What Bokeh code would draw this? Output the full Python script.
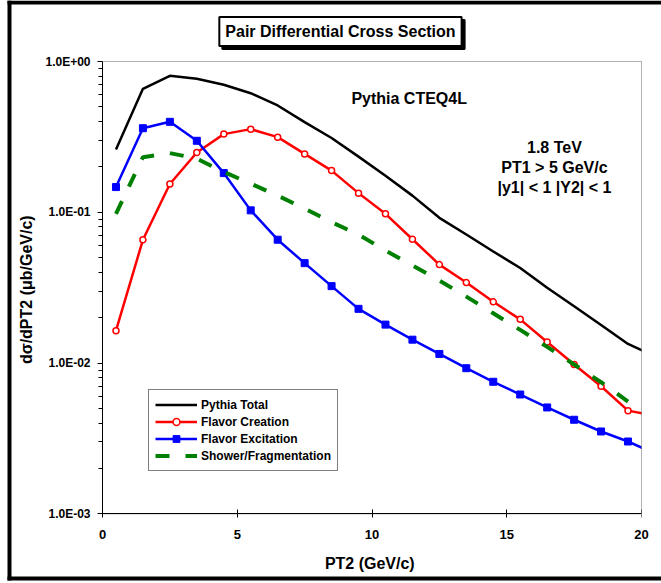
from bokeh.plotting import figure
from bokeh.models import (Range1d, FixedTicker, CustomJSTickFormatter, Label,
                          BoxAnnotation, Legend, LegendItem)
from bokeh.embed import file_html
from bokeh.resources import INLINE

# ---------------- data ----------------
pt2 = [0.5, 1.5, 2.5, 3.5, 4.5, 5.5, 6.5, 7.5, 8.5, 9.5, 10.5,
       11.5, 12.5, 13.5, 14.5, 15.5, 16.5, 17.5, 18.5, 19.5, 20.5]
pythia_total = [0.261, 0.659, 0.804, 0.768, 0.701, 0.616, 0.511, 0.396, 0.311, 0.234, 0.175,
                0.129, 0.0919, 0.0712, 0.0550, 0.0427, 0.0316, 0.0238, 0.0179, 0.0134, 0.0111]
flavor_creation = [0.0164, 0.0657, 0.154, 0.249, 0.330, 0.356, 0.315, 0.244, 0.189, 0.134, 0.0977,
                   0.0663, 0.0450, 0.0342, 0.0255, 0.0195, 0.0138, 0.00979, 0.00702, 0.00484, 0.00448]
flavor_excitation = [0.147, 0.361, 0.398, 0.298, 0.182, 0.103, 0.0658, 0.0460, 0.0324, 0.0229, 0.0180,
                     0.0143, 0.0115, 0.00925, 0.00752, 0.00619, 0.00508, 0.00421, 0.00352, 0.00302, 0.00251]
pt2_shower = [0.5, 1.5, 2.5, 3.5, 4.5, 5.5, 6.5, 7.5, 8.5, 9.5,
              10.5, 11.5, 12.5, 13.5, 14.5, 15.5, 16.5, 17.5, 18.5, 19.5]
shower_fragmentation = [0.0977, 0.232, 0.247, 0.227, 0.185, 0.155, 0.129, 0.106, 0.0860, 0.0712,
                        0.0558, 0.0444, 0.0353, 0.0276, 0.0214, 0.0166, 0.0128, 0.00979, 0.00747, 0.00556]

x_ticks = [0, 5, 10, 15, 20]
x_tick_labels = ["0", "5", "10", "15", "20"]
y_ticks = [0.001, 0.01, 0.1, 1.0]
y_tick_labels = ["1.0E-03", "1.0E-02", "1.0E-01", "1.0E+00"]
y_minor_ticks = [m * d for d in (0.001, 0.01, 0.1) for m in range(2, 10)]

series_names = ["Pythia Total", "Flavor Creation", "Flavor Excitation", "Shower/Fragmentation"]
title_text = "Pair Differential Cross Section"
info_lines = ["1.8 TeV", "PT1 > 5 GeV/c", "|y1| < 1 |Y2| < 1"]

FONT = "Liberation Sans"

# ---------------- layout geometry ----------------
# The frame spans the whole canvas; axes are pinned at x=0 / y=1e-3 and bounded
# to the plotting area (x 0..20, y 1e-3..1).
X0_PX, PX_PER_UNIT = 102.0, 26.95           # canvas px of x=0, px per GeV
Y1_PX, PX_PER_DECADE = 61.0, 150.8          # canvas px of y=1, px per decade
W, H = 661, 583
x_lo = -X0_PX / PX_PER_UNIT
x_hi = (W - X0_PX) / PX_PER_UNIT
y_hi = 10 ** (Y1_PX / PX_PER_DECADE)
y_lo = 10 ** (-(H - Y1_PX) / PX_PER_DECADE)


def px_x(px):
    return (px - X0_PX) / PX_PER_UNIT


def px_y(py):
    return 10 ** ((Y1_PX - py) / PX_PER_DECADE)


p = figure(width=W, height=H, x_range=Range1d(x_lo, x_hi), y_range=Range1d(y_lo, y_hi),
           y_axis_type="log", output_backend="svg", toolbar_location=None,
           min_border_left=0, min_border_right=0, min_border_top=0, min_border_bottom=0)
p.background_fill_color = "white"
p.border_fill_color = "white"
p.outline_line_color = None
p.grid.visible = False

# x axis
xa = p.xaxis[0]
xa.fixed_location = 0.001
xa.bounds = (0, 20)
xa.ticker = FixedTicker(ticks=x_ticks)
xa.major_label_overrides = {t: l for t, l in zip(x_ticks, x_tick_labels)}
xa.major_tick_in = 4
xa.major_tick_out = 4
xa.minor_tick_line_color = None
xa.axis_line_color = "black"
xa.major_tick_line_color = "black"
xa.major_label_text_font = FONT
xa.major_label_text_font_style = "bold"
xa.major_label_text_font_size = "13px"
xa.major_label_text_color = "black"
xa.major_label_standoff = 12
xa.axis_label = "PT2  (GeV/c)"
xa.axis_label_text_font = FONT
xa.axis_label_text_font_style = "bold"
xa.axis_label_text_font_size = "16px"
xa.axis_label_text_color = "black"
xa.axis_label_standoff = 13

# y axis
ya = p.yaxis[0]
ya.fixed_location = 0
ya.bounds = (0.001, 1.0)
ya.ticker = FixedTicker(ticks=y_ticks, minor_ticks=y_minor_ticks)
ya.formatter = CustomJSTickFormatter(args=dict(yt=y_ticks, yl=y_tick_labels), code="""
    for (let i = 0; i < yt.length; i++) {
        if (Math.abs(Math.log10(yt[i]) - Math.log10(tick)) < 1e-6) return yl[i];
    }
    return '';
""")
ya.major_tick_in = 0
ya.major_tick_out = 5
ya.minor_tick_in = 0
ya.minor_tick_out = 4
ya.axis_line_color = "black"
ya.major_tick_line_color = "black"
ya.minor_tick_line_color = "black"
ya.major_label_text_font = FONT
ya.major_label_text_font_style = "bold"
ya.major_label_text_font_size = "12px"
ya.major_label_text_color = "black"
ya.major_label_standoff = 7
ya.axis_label = "d\u03c3/dPT2  (\u03bcb/GeV/c)"
ya.axis_label_text_font = FONT
ya.axis_label_text_font_style = "bold"
ya.axis_label_text_font_size = "16px"
ya.axis_label_text_color = "black"
ya.axis_label_standoff = 7

# ---------------- series ----------------
r_tot = p.line(pt2, pythia_total, line_color="black", line_width=2.5)
r_fc = p.line(pt2, flavor_creation, line_color="#ff0000", line_width=2.5)
r_fc_m = p.scatter(pt2, flavor_creation, marker="circle", size=6, fill_color="white",
                   line_color="#ff0000", line_width=1.5)
r_fe = p.line(pt2, flavor_excitation, line_color="#0000ff", line_width=2.5)
r_fe_m = p.scatter(pt2, flavor_excitation, marker="square", size=7, fill_color="#0000ff",
                   line_color="#0000ff")
r_sf = p.line(pt2_shower, shower_fragmentation, line_color="#008000", line_width=4,
              line_dash="14 16")

# hide what lies beyond x = 20 (the chart clips its series at the plot edge)
p.add_layout(BoxAnnotation(left=20, right=x_hi, bottom=0.0009, top=1.05, fill_color="white",
                           fill_alpha=1, line_alpha=0, level="annotation"))
# plot-area box
p.add_layout(BoxAnnotation(left=0, right=20, bottom=0.001, top=1.0, fill_alpha=0,
                           line_color="black", line_width=1, level="annotation"))

legend = Legend(items=[
    LegendItem(label=series_names[0], renderers=[r_tot]),
    LegendItem(label=series_names[1], renderers=[r_fc, r_fc_m]),
    LegendItem(label=series_names[2], renderers=[r_fe, r_fe_m]),
    LegendItem(label=series_names[3], renderers=[r_sf]),
], location=(148, H - 471))
legend.glyph_width = 42
legend.glyph_height = 17
legend.label_height = 17
legend.spacing = 0
legend.padding = 6
legend.margin = 0
legend.label_standoff = 4
legend.label_text_font = FONT
legend.label_text_font_style = "bold"
legend.label_text_font_size = "12px"
legend.label_text_color = "black"
legend.border_line_color = "black"
legend.border_line_width = 1
legend.background_fill_color = "white"
legend.background_fill_alpha = 1
p.add_layout(legend)

# ---------------- annotations ----------------
p.add_layout(Label(x=11.38, y=0.571, text="Pythia CTEQ4L", text_align="center",
                   text_baseline="middle", text_font=FONT, text_font_style="bold",
                   text_font_size="16px", text_color="black"))
for txt, yv in zip(info_lines, [0.270, 0.199, 0.1467]):
    p.add_layout(Label(x=16.77, y=yv, text=txt, text_align="center", text_baseline="middle",
                       text_font=FONT, text_font_style="bold", text_font_size="16px",
                       text_color="black"))

# title box with shadow
p.add_layout(Label(x=8.83, y=1.581, x_offset=3, y_offset=-3, text=title_text,
                   text_align="center", text_baseline="middle", text_font=FONT,
                   text_font_style="bold", text_font_size="16px", text_color="black",
                   background_fill_color="black", border_line_color="black",
                   border_line_width=2, padding=6))
p.add_layout(Label(x=8.83, y=1.581, text=title_text,
                   text_align="center", text_baseline="middle", text_font=FONT,
                   text_font_style="bold", text_font_size="16px", text_color="black",
                   background_fill_color="white", border_line_color="black",
                   border_line_width=2, padding=6))

# outer frame: left, top and bottom bars (the right side lies off the page)
for (l, r, t, b) in [(7, 11, 0, 580), (7, W, 0, 4), (7, W, 576, 580)]:
    p.add_layout(BoxAnnotation(left=px_x(l), right=px_x(r), top=px_y(t), bottom=px_y(b),
                               fill_color="black", fill_alpha=1, line_alpha=0))

open("out.html", "w").write(file_html(p, INLINE))
